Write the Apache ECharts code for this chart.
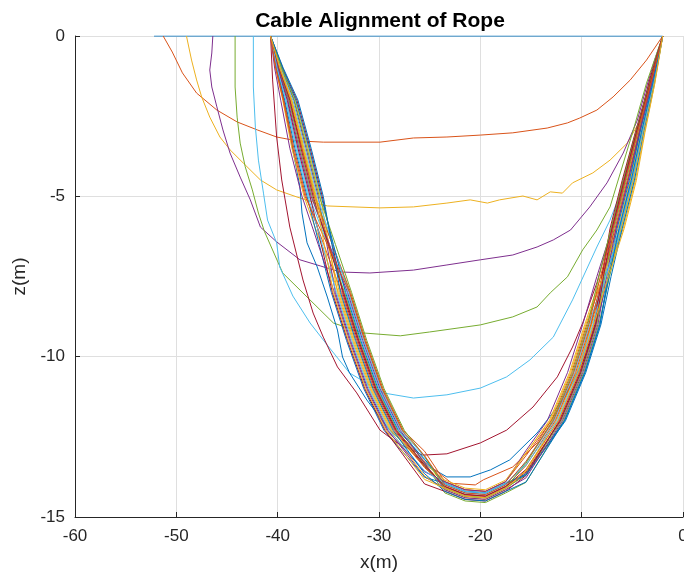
<!DOCTYPE html>
<html>
<head>
<meta charset="utf-8">
<title>Cable Alignment of Rope</title>
<script src="https://cdn.jsdelivr.net/npm/echarts@6/dist/echarts.min.js"></script>
<style>
  html, body { margin: 0; padding: 0; background: #fff; }
  #chart { width: 684px; height: 577px; }
</style>
</head>
<body>
<div id="chart"></div>
<script>
// Rope profiles [x (m), z (m)] at successive time steps, in plotting order.
const step01 = [[-52.2, 0], [-2, 0]];
const step02 = [[-51.3, 0], [-50.4, -0.5], [-49.4, -1.15], [-48.0, -1.78], [-46.0, -2.31], [-44.0, -2.68], [-42.0, -2.93], [-40.1, -3.15], [-38.1, -3.27], [-35.5, -3.31], [-29.9, -3.31], [-26.6, -3.18], [-23.3, -3.15], [-20.0, -3.09], [-16.8, -3.02], [-13.4, -2.87], [-11.4, -2.71], [-10.2, -2.56], [-8.5, -2.31], [-6.9, -1.90], [-5.2, -1.37], [-3.6, -0.75], [-2, 0]];
const step03 = [[-49.0, 0], [-48.5, -0.75], [-48.0, -1.37], [-47.5, -1.90], [-46.7, -2.53], [-45.7, -3.15], [-44.7, -3.55], [-43.4, -3.96], [-41.7, -4.49], [-40.1, -4.80], [-38.1, -5.02], [-36.8, -5.15], [-35.1, -5.30], [-29.9, -5.36], [-26.6, -5.33], [-23.3, -5.21], [-21.0, -5.11], [-19.3, -5.21], [-18.1, -5.11], [-15.8, -4.99], [-14.4, -5.11], [-13.1, -4.86], [-11.9, -4.90], [-10.9, -4.58], [-8.9, -4.27], [-7.2, -3.87], [-5.5, -3.34], [-4.2, -2.62], [-3.3, -1.59], [-2.6, -0.75], [-2, 0]];
const step04 = [[-46.4, 0], [-46.5, -0.53], [-46.7, -1.06], [-46.5, -1.59], [-46.0, -2.21], [-45.4, -2.93], [-44.7, -3.65], [-43.7, -4.40], [-42.7, -5.11], [-41.7, -5.96], [-40.1, -6.42], [-37.8, -6.98], [-35.8, -7.17], [-33.8, -7.36], [-30.9, -7.39], [-26.6, -7.30], [-23.3, -7.14], [-20.0, -6.98], [-16.8, -6.83], [-14.4, -6.58], [-12.8, -6.36], [-11.1, -6.05], [-9.2, -5.33], [-7.5, -4.58], [-5.9, -3.65], [-4.5, -2.62], [-3.6, -1.59], [-2.8, -0.75], [-2, 0]];
const step05 = [[-44.2, 0], [-44.2, -1.59], [-44.0, -2.53], [-43.7, -3.34], [-43.2, -4.08], [-42.5, -4.80], [-41.9, -5.52], [-41.3, -6.1], [-39.5, -7.39], [-37.1, -8.14], [-34.5, -8.95], [-31.6, -9.26], [-27.9, -9.35], [-25.0, -9.23], [-20.0, -9.01], [-16.8, -8.76], [-14.4, -8.45], [-13.1, -8.01], [-11.4, -7.51], [-9.9, -6.67], [-8.5, -6.05], [-7.2, -5.33], [-4.9, -2.93], [-3.6, -1.47], [-2, 0]];
const step06 = [[-42.4, 0], [-42.4, -1.59], [-42.2, -2.84], [-41.9, -3.87], [-41.4, -4.90], [-41.0, -5.74], [-40.1, -6.45], [-39.8, -7.20], [-38.5, -8.11], [-36.8, -8.95], [-35.1, -9.64], [-32.9, -10.51], [-29.6, -11.13], [-26.6, -11.29], [-23.3, -11.19], [-20.0, -10.98], [-17.4, -10.63], [-15.1, -10.10], [-12.8, -9.39], [-10.9, -8.23], [-8.5, -6.58], [-7.2, -5.74], [-6.3, -5.0], [-5.0, -3.4], [-3.6, -1.8], [-2, 0]];
const step07 = [[-40.7, 0], [-40.5, -1.37], [-40.1, -3.15], [-39.6, -4.49], [-38.8, -5.96], [-37.5, -7.61], [-36.5, -8.64], [-35.5, -9.39], [-34.1, -10.32], [-32.2, -11.13], [-29.9, -12.29], [-28.2, -12.69], [-25.7, -13.07], [-23.3, -13.03], [-20.0, -12.69], [-17.4, -12.29], [-14.8, -11.57], [-12.4, -10.63], [-10.9, -9.70], [-9.9, -8.95], [-8.5, -7.70], [-6.2, -5.11], [-4.5, -2.93], [-3.3, -1.37], [-2, 0]];
const step08 = [[-40.7, 0], [-39.8, -1.37], [-39.1, -2.40], [-38.5, -3.55], [-37.8, -4.71], [-37.6, -5.52], [-37.1, -6.45], [-36.1, -7.20], [-35.1, -8.14], [-34.1, -9.17], [-33.6, -10.01], [-32.9, -10.51], [-31.2, -11.35], [-29.2, -12.19], [-26.9, -12.91], [-25.0, -13.44], [-23.3, -13.75], [-21.0, -13.75], [-19.0, -13.53], [-17.1, -13.22], [-14.4, -12.38], [-12.4, -11.57], [-10.9, -10.82], [-9.5, -9.88], [-8.2, -8.54], [-6.7, -6.67], [-5.2, -4.49], [-3.7, -2.15], [-2, 0]];
const step09 = [[-40.7, 0], [-39.9, -1], [-38.9, -2], [-37.6, -3.5], [-36.3, -5], [-34.9, -6.5], [-33.5, -8], [-32.0, -9.5], [-30.3, -11], [-28.3, -12.3], [-25.4, -13.3], [-22.8, -13.95], [-20.5, -14.0], [-19.7, -13.84], [-16.8, -13.44], [-14.4, -12.69], [-12.8, -11.88], [-11.4, -11.13], [-10.2, -10.32], [-8.2, -8.0], [-5.8, -5.0], [-3.6, -2], [-2, 0]];
const step10 = [[-40.7, 0], [-40.2, -1], [-39.5, -2], [-38.6, -3.5], [-37.4, -5], [-35.7, -6.5], [-34.0, -8], [-32.5, -9.5], [-30.8, -11], [-28.8, -12.3], [-25.5, -13.43], [-23.5, -13.9], [-21.5, -14.15], [-19.5, -14.2], [-17.5, -13.9], [-15.5, -13.01], [-13.2, -12], [-11.2, -10.5], [-9.7, -9], [-8.1, -7.5], [-6.4, -6], [-5.2, -4.5], [-4.15, -3], [-3.0, -1.5], [-2, 0]];
const step11 = [[-40.7, 0], [-39.65, -1], [-38.4, -2], [-37.2, -3.5], [-36.0, -5], [-35.15, -6.5], [-34.3, -8], [-32.8, -9.5], [-31.1, -11], [-29.1, -12.3], [-25.5, -13.75], [-23.5, -14.1], [-21.5, -14.35], [-19.5, -14.4], [-17.5, -14.1], [-15.5, -13.65], [-12.1, -12], [-10.1, -10.5], [-8.6, -9], [-7.8, -7.5], [-6.9, -6], [-5.7, -4.5], [-4.5, -3], [-3.2, -1.5], [-2, 0]];
const step12 = [[-40.7, 0], [-39.8, -1], [-38.65, -2], [-37.5, -3.5], [-36.3, -5], [-34.6, -6.5], [-32.9, -8], [-31.4, -9.5], [-29.7, -11], [-27.7, -12.3], [-25.5, -13.34], [-23.5, -14.25], [-21.5, -14.5], [-19.5, -14.55], [-17.5, -14.25], [-15.5, -13.92], [-11.8, -12], [-9.8, -10.5], [-8.3, -9], [-7.25, -7.5], [-6.1, -6], [-4.9, -4.5], [-3.95, -3], [-2.9, -1.5], [-2, 0]];
const step13 = [[-40.7, 0], [-40.0, -1], [-39.15, -2], [-38.1, -3.5], [-36.9, -5], [-35.05, -6.5], [-33.2, -8], [-31.7, -9.5], [-30.0, -11], [-28.0, -12.3], [-25.5, -13.21], [-23.5, -14.0], [-21.5, -14.25], [-19.5, -14.3], [-17.5, -14.0], [-15.5, -13.27], [-12.8, -12], [-10.8, -10.5], [-9.3, -9], [-7.7, -7.5], [-6.0, -6], [-4.8, -4.5], [-3.9, -3], [-2.85, -1.5], [-2, 0]];
const step14 = [[-40.7, 0], [-39.5, -1], [-38.1, -2], [-36.8, -3.5], [-35.6, -5], [-34.6, -6.5], [-33.6, -8], [-32.1, -9.5], [-30.4, -11], [-28.4, -12.3], [-25.5, -13.42], [-23.5, -14.05], [-21.5, -14.3], [-19.5, -14.35], [-17.5, -14.05], [-15.5, -13.52], [-12.3, -12], [-10.3, -10.5], [-8.8, -9], [-8.0, -7.5], [-7.1, -6], [-5.9, -4.5], [-4.65, -3], [-3.3, -1.5], [-2, 0]];
const step15 = [[-40.7, 0], [-40.1, -1], [-39.3, -2], [-38.3, -3.5], [-37.1, -5], [-35.9, -6.5], [-34.7, -8], [-33.2, -9.5], [-31.5, -11], [-29.5, -12.3], [-25.5, -13.76], [-23.5, -13.95], [-21.5, -14.2], [-19.5, -14.25], [-17.5, -13.95], [-15.5, -13.66], [-11.7, -12], [-9.7, -10.5], [-8.2, -9], [-7.4, -7.5], [-6.5, -6], [-5.3, -4.5], [-4.25, -3], [-3.05, -1.5], [-2, 0]];
const step16 = [[-40.7, 0], [-39.8, -1], [-38.75, -2], [-37.6, -3.5], [-36.4, -5], [-34.6, -6.5], [-32.8, -8], [-31.3, -9.5], [-29.6, -11], [-27.6, -12.3], [-25.5, -12.95], [-23.5, -13.9], [-21.5, -14.15], [-19.5, -14.2], [-17.5, -13.9], [-15.5, -13.09], [-13.0, -12], [-11.0, -10.5], [-9.5, -9], [-7.9, -7.5], [-6.2, -6], [-5.0, -4.5], [-4.0, -3], [-2.95, -1.5], [-2, 0]];
const step17 = [[-40.7, 0], [-39.6, -1], [-38.25, -2], [-37.0, -3.5], [-35.8, -5], [-34.95, -6.5], [-34.1, -8], [-32.6, -9.5], [-30.9, -11], [-28.9, -12.3], [-25.5, -13.72], [-23.5, -14.15], [-21.5, -14.4], [-19.5, -14.45], [-17.5, -14.15], [-15.5, -13.54], [-12.5, -12], [-10.5, -10.5], [-9.0, -9], [-7.5, -7.5], [-5.9, -6], [-4.7, -4.5], [-3.8, -3], [-2.8, -1.5], [-2, 0]];
const step18 = [[-40.7, 0], [-40.3, -1], [-39.7, -2], [-38.8, -3.5], [-37.6, -5], [-36.0, -6.5], [-34.4, -8], [-32.9, -9.5], [-31.2, -11], [-29.2, -12.3], [-25.5, -13.59], [-23.5, -13.9], [-21.5, -14.15], [-19.5, -14.2], [-17.5, -13.9], [-15.5, -12.93], [-13.4, -12], [-11.4, -10.5], [-9.9, -9], [-8.5, -7.5], [-7.0, -6], [-5.8, -4.5], [-4.6, -3], [-3.25, -1.5], [-2, 0]];
const step19 = [[-40.7, 0], [-39.9, -1], [-38.9, -2], [-37.8, -3.5], [-36.6, -5], [-35.0, -6.5], [-33.4, -8], [-31.9, -9.5], [-30.2, -11], [-28.2, -12.3], [-25.5, -13.39], [-23.5, -14.1], [-21.5, -14.35], [-19.5, -14.4], [-17.5, -14.1], [-15.5, -13.69], [-12.0, -12], [-10.0, -10.5], [-8.5, -9], [-7.7, -7.5], [-6.8, -6], [-5.6, -4.5], [-4.45, -3], [-3.2, -1.5], [-2, 0]];
const step20 = [[-40.7, 0], [-39.7, -1], [-38.5, -2], [-37.3, -3.5], [-36.1, -5], [-34.55, -6.5], [-33.0, -8], [-31.5, -9.5], [-29.8, -11], [-27.8, -12.3], [-25.5, -13.13], [-23.5, -14.0], [-21.5, -14.25], [-19.5, -14.3], [-17.5, -14.0], [-15.5, -13.31], [-12.7, -12], [-10.7, -10.5], [-9.2, -9], [-7.8, -7.5], [-6.3, -6], [-5.1, -4.5], [-4.1, -3], [-3.0, -1.5], [-2, 0]];
const step21 = [[-40.7, 0], [-40.0, -1], [-39.05, -2], [-38.0, -3.5], [-36.8, -5], [-35.7, -6.5], [-34.6, -8], [-33.1, -9.5], [-31.4, -11], [-29.4, -12.3], [-25.5, -13.97], [-23.5, -14.2], [-21.5, -14.45], [-19.5, -14.5], [-17.5, -14.2], [-15.5, -13.71], [-12.2, -12], [-10.2, -10.5], [-8.7, -9], [-8.0, -7.5], [-7.2, -6], [-6.0, -4.5], [-4.7, -3], [-3.35, -1.5], [-2, 0]];
const step22 = [[-40.7, 0], [-39.55, -1], [-38.2, -2], [-36.9, -3.5], [-35.7, -5], [-34.5, -6.5], [-33.3, -8], [-31.8, -9.5], [-30.1, -11], [-28.1, -12.3], [-25.5, -13.2], [-23.5, -13.95], [-21.5, -14.2], [-19.5, -14.25], [-17.5, -13.95], [-15.5, -13.7], [-11.6, -12], [-9.6, -10.5], [-8.1, -9], [-7.1, -7.5], [-6.0, -6], [-4.8, -4.5], [-3.9, -3], [-2.85, -1.5], [-2, 0]];
const step23 = [[-40.7, 0], [-40.15, -1], [-39.4, -2], [-38.4, -3.5], [-37.2, -5], [-35.45, -6.5], [-33.7, -8], [-32.2, -9.5], [-30.5, -11], [-28.5, -12.3], [-25.5, -13.46], [-23.5, -14.05], [-21.5, -14.3], [-19.5, -14.35], [-17.5, -14.05], [-15.5, -13.4], [-12.6, -12], [-10.6, -10.5], [-9.1, -9], [-7.95, -7.5], [-6.7, -6], [-5.5, -4.5], [-4.35, -3], [-3.15, -1.5], [-2, 0]];
const step24 = [[-40.7, 0], [-39.75, -1], [-38.6, -2], [-37.4, -3.5], [-36.2, -5], [-35.05, -6.5], [-33.9, -8], [-32.4, -9.5], [-30.7, -11], [-28.7, -12.3], [-25.5, -13.34], [-23.5, -13.85], [-21.5, -14.1], [-19.5, -14.15], [-17.5, -13.85], [-15.5, -13.0], [-13.1, -12], [-11.1, -10.5], [-9.6, -9], [-7.9, -7.5], [-6.1, -6], [-4.9, -4.5], [-3.95, -3], [-2.9, -1.5], [-2, 0]];
const step25 = [[-40.7, 0], [-39.95, -1], [-39.0, -2], [-37.9, -3.5], [-36.7, -5], [-34.9, -6.5], [-33.1, -8], [-31.6, -9.5], [-29.9, -11], [-27.9, -12.3], [-25.5, -13.32], [-23.5, -14.15], [-21.5, -14.4], [-19.5, -14.45], [-17.5, -14.15], [-15.5, -13.78], [-11.9, -12], [-9.9, -10.5], [-8.4, -9], [-7.55, -7.5], [-6.6, -6], [-5.4, -4.5], [-4.3, -3], [-3.1, -1.5], [-2, 0]];
const step26 = [[-40.7, 0], [-39.6, -1], [-38.35, -2], [-37.1, -3.5], [-35.9, -5], [-34.3, -6.5], [-32.7, -8], [-31.2, -9.5], [-29.5, -11], [-27.5, -12.3], [-25.5, -13.11], [-23.5, -14.1], [-21.5, -14.35], [-19.5, -14.4], [-17.5, -14.1], [-15.5, -13.33], [-12.9, -12], [-10.9, -10.5], [-9.4, -9], [-8.3, -7.5], [-7.1, -6], [-5.9, -4.5], [-4.65, -3], [-3.3, -1.5], [-2, 0]];
const step27 = [[-40.7, 0], [-40.05, -1], [-39.2, -2], [-38.2, -3.5], [-37.0, -5], [-35.6, -6.5], [-34.2, -8], [-32.7, -9.5], [-31.0, -11], [-29.0, -12.3], [-25.5, -13.56], [-23.5, -13.95], [-21.5, -14.2], [-19.5, -14.25], [-17.5, -13.95], [-15.5, -13.38], [-12.4, -12], [-10.4, -10.5], [-8.9, -9], [-7.6, -7.5], [-6.2, -6], [-5.0, -4.5], [-4.0, -3], [-2.95, -1.5], [-2, 0]];
const step28 = [[-40.7, 0], [-39.85, -1], [-38.8, -2], [-37.7, -3.5], [-36.5, -5], [-35.0, -6.5], [-33.5, -8], [-32.0, -9.5], [-30.3, -11], [-28.3, -12.3], [-25.5, -13.38], [-23.5, -14.05], [-21.5, -14.3], [-19.5, -14.35], [-17.5, -14.05], [-15.5, -13.6], [-12.1, -12], [-10.1, -10.5], [-8.6, -9], [-7.85, -7.5], [-7.0, -6], [-5.8, -4.5], [-4.6, -3], [-3.25, -1.5], [-2, 0]];
const step29 = [[-40.7, 0], [-39.45, -1], [-38.0, -2], [-36.7, -3.5], [-35.5, -5], [-34.65, -6.5], [-33.8, -8], [-32.3, -9.5], [-30.6, -11], [-28.6, -12.3], [-25.5, -13.65], [-23.5, -14.2], [-21.5, -14.45], [-19.5, -14.5], [-17.5, -14.2], [-15.5, -13.91], [-11.7, -12], [-9.7, -10.5], [-8.2, -9], [-7.3, -7.5], [-6.3, -6], [-5.1, -4.5], [-4.1, -3], [-3.0, -1.5], [-2, 0]];
const step30 = [[-40.7, 0], [-40.2, -1], [-39.45, -2], [-38.5, -3.5], [-37.3, -5], [-35.1, -6.5], [-32.9, -8], [-31.4, -9.5], [-29.7, -11], [-27.7, -12.3], [-25.5, -13.09], [-23.5, -14.0], [-21.5, -14.25], [-19.5, -14.3], [-17.5, -14.0], [-15.5, -13.27], [-12.8, -12], [-10.8, -10.5], [-9.3, -9], [-8.15, -7.5], [-6.9, -6], [-5.7, -4.5], [-4.5, -3], [-3.2, -1.5], [-2, 0]];
const step31 = [[-40.7, 0], [-39.8, -1], [-38.65, -2], [-37.5, -3.5], [-36.3, -5], [-35.4, -6.5], [-34.5, -8], [-33.0, -9.5], [-31.3, -11], [-29.3, -12.3], [-25.5, -13.83], [-23.5, -14.1], [-21.5, -14.35], [-19.5, -14.4], [-17.5, -14.1], [-15.5, -13.57], [-12.3, -12], [-10.3, -10.5], [-8.8, -9], [-7.35, -7.5], [-5.8, -6], [-4.6, -4.5], [-3.75, -3], [-2.8, -1.5], [-2, 0]];

const profiles = [step01, step02, step03, step04, step05, step06, step07, step08, step09, step10,
  step11, step12, step13, step14, step15, step16, step17, step18, step19, step20,
  step21, step22, step23, step24, step25, step26, step27, step28, step29, step30, step31];

// Default colour order, cycled through the profiles.
const colorOrder = ['#0072BD', '#D95319', '#EDB120', '#7E2F8E', '#77AC30', '#4DBEEE', '#A2142F'];

// Axis ranges and tick spacing.
const xRange = [-60, 0];
const xStep = 10;
const zRange = [-15, 0];
const zStep = 5;

const axisInk = '#262626';
const gridInk = '#dfdfdf';
const fontFamily = 'Arial, "Liberation Sans", Helvetica, sans-serif';

const chart = echarts.init(document.getElementById('chart'), null, { renderer: 'canvas' });

const series = profiles.map((pts, i) => ({
  type: 'line',
  data: pts,
  showSymbol: false,
  symbol: 'none',
  smooth: false,
  clip: true,
  lineStyle: { width: 1, color: colorOrder[i % colorOrder.length] },
  emphasis: { disabled: true },
  z: 2 + i * 0.01
}));

chart.setOption({
  animation: false,
  backgroundColor: '#ffffff',
  title: {
    text: 'Cable Alignment of Rope',
    left: 375,
    textAlign: 'center',
    top: 6,
    textStyle: { fontFamily, fontSize: 21, fontWeight: 'bold', color: '#000' }
  },
  grid: { left: 75, right: 1, top: 36, bottom: 60, containLabel: false, outerBoundsMode: 'none' },
  xAxis: {
    type: 'value',
    min: xRange[0], max: xRange[1], interval: xStep,
    name: 'x(m)',
    nameLocation: 'middle',
    nameGap: 36,
    nameTextStyle: { fontFamily, fontSize: 19, color: axisInk },
    axisLine: { show: true, onZero: false, lineStyle: { color: axisInk, width: 1 } },
    axisTick: { show: true, inside: true, length: 5, lineStyle: { color: axisInk } },
    axisLabel: { margin: 11, fontFamily, fontSize: 17, color: axisInk },
    splitLine: { show: true, lineStyle: { color: gridInk, width: 1 } }
  },
  yAxis: {
    type: 'value',
    min: zRange[0], max: zRange[1], interval: zStep,
    name: 'z(m)',
    nameLocation: 'middle',
    nameRotate: 90,
    nameGap: 42,
    nameTextStyle: { fontFamily, fontSize: 19, color: axisInk },
    axisLine: { show: true, onZero: false, lineStyle: { color: axisInk, width: 1 } },
    axisTick: { show: true, inside: true, length: 5, lineStyle: { color: axisInk } },
    axisLabel: { margin: 10, fontFamily, fontSize: 17, color: axisInk },
    splitLine: { show: true, lineStyle: { color: gridInk, width: 1 } }
  },
  series
});
</script>
</body>
</html>
